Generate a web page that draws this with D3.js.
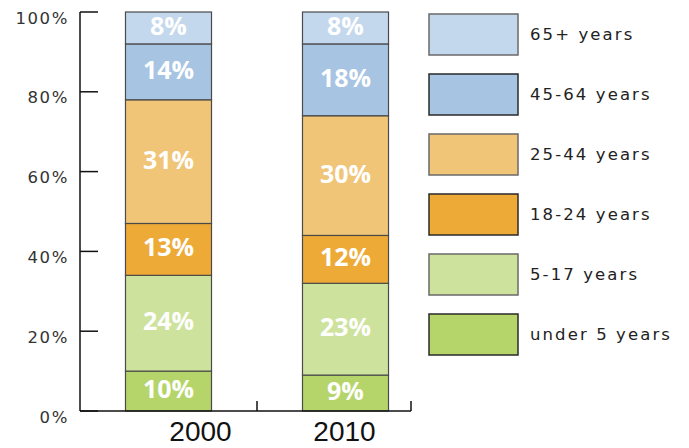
<!DOCTYPE html>
<html>
<head>
<meta charset="utf-8">
<script src="https://cdn.jsdelivr.net/npm/d3@7"></script>
<style>
  body { margin: 0; background: #fff; }
  svg { display: block; }
</style>
</head>
<body>
<svg width="689" height="448"></svg>
<script>
// data
const years = ["2000", "2010"];
const groups = ["under 5 years", "5-17 years", "18-24 years", "25-44 years", "45-64 years", "65+ years"];
const pct2000 = [10, 24, 13, 31, 14, 8];
const pct2010 = [9, 23, 12, 30, 18, 8];
const yTicks = [0, 20, 40, 60, 80, 100];

const fills = ["#b5d56b", "#cde39d", "#eeaa37", "#f0c578", "#a7c4e2", "#c4d8ed"];
const legendStroke = ["#2a2a2a", "#6a6a6a", "#2a2a2a", "#6a6a6a", "#2a2a2a", "#6a6a6a"];

const rows = years.map((yr, i) => {
  const vals = i === 0 ? pct2000 : pct2010;
  const r = { year: yr };
  groups.forEach((g, j) => r[g] = vals[j]);
  return r;
});

const svg = d3.select("svg");
const color = d3.scaleOrdinal().domain(groups).range(fills);

const axisLeft = 80, axisRight = 411;
const y = d3.scaleLinear().domain([0, 100]).range([411, 12]);
const x = d3.scaleBand().domain(years).range([axisLeft, 434]).paddingInner(0.514).paddingOuter(0.257);

const series = d3.stack().keys(groups)(rows);

// bars
const layer = svg.append("g").selectAll("g")
  .data(series).enter().append("g")
  .attr("fill", d => color(d.key));

layer.selectAll("rect")
  .data(d => d)
  .enter().append("rect")
  .attr("x", d => x(d.data.year))
  .attr("y", d => y(d[1]))
  .attr("width", x.bandwidth())
  .attr("height", d => y(d[0]) - y(d[1]))
  .attr("stroke", "#4a4a4a")
  .attr("stroke-width", 1.2);

// value labels
layer.selectAll("text")
  .data(d => d)
  .enter().append("text")
  .attr("x", d => x(d.data.year) + x.bandwidth() / 2)
  .attr("y", d => (y(d[0]) + y(d[1])) / 2 - 3)
  .attr("text-anchor", "middle")
  .attr("dominant-baseline", "central")
  .attr("fill", "#fff")
  .attr("font-family", "'Open Sans', sans-serif")
  .attr("font-weight", "bold")
  .attr("font-size", 25)
  .text(d => (d[1] - d[0]) + "%");

// y axis
const yAxis = svg.append("g");
yAxis.append("line")
  .attr("x1", axisLeft).attr("x2", axisLeft)
  .attr("y1", y(100)).attr("y2", y(0))
  .attr("stroke", "#111").attr("stroke-width", 1.5);
yAxis.selectAll(".tick")
  .data(yTicks).enter().append("line")
  .attr("x1", axisLeft).attr("x2", axisLeft + 18)
  .attr("y1", d => y(d)).attr("y2", d => y(d))
  .attr("stroke", "#111").attr("stroke-width", 1.5);
yAxis.selectAll("text")
  .data(yTicks).enter().append("text")
  .attr("x", 69)
  .attr("y", d => y(d) + 6)
  .attr("text-anchor", "end")
  .attr("dominant-baseline", "central")
  .attr("fill", "#333")
  .attr("font-family", "'DejaVu Sans', sans-serif")
  .attr("font-size", 16.5)
  .attr("letter-spacing", 1.6)
  .text(d => d + "%");

// x axis
const xAxis = svg.append("g");
xAxis.append("line")
  .attr("x1", axisLeft).attr("x2", axisRight)
  .attr("y1", y(0)).attr("y2", y(0))
  .attr("stroke", "#111").attr("stroke-width", 1.5);
const bounds = years.map((d, i) => Math.min(axisLeft + i * x.step(), axisRight)).concat([axisRight]);
xAxis.selectAll(".tick")
  .data(bounds.slice(1)).enter().append("line")
  .attr("x1", d => d).attr("x2", d => d)
  .attr("y1", y(0)).attr("y2", y(0) - 10)
  .attr("stroke", "#111").attr("stroke-width", 1.5);
xAxis.selectAll("text")
  .data(years).enter().append("text")
  .attr("x", (d, i) => x(d) + x.bandwidth() / 2 + (i === 0 ? 32 : -1))
  .attr("y", 441)
  .attr("text-anchor", "middle")
  .attr("fill", "#111")
  .attr("font-family", "'Liberation Sans', sans-serif")
  .attr("font-size", 28)
  .text(d => d);

// legend, top entry is the oldest group
const legendItems = groups.slice().reverse();
const lg = svg.append("g").selectAll("g")
  .data(legendItems).enter().append("g")
  .attr("transform", (d, i) => `translate(429, ${14 + i * 60})`);
lg.append("rect")
  .attr("width", 89).attr("height", 41)
  .attr("fill", d => color(d))
  .attr("stroke", d => legendStroke[groups.indexOf(d)])
  .attr("stroke-width", 1.5);
lg.append("text")
  .attr("x", 101)
  .attr("y", 20)
  .attr("dominant-baseline", "central")
  .attr("fill", "#222")
  .attr("font-family", "'DejaVu Sans', sans-serif")
  .attr("font-size", 16.5)
  .attr("letter-spacing", 2.1)
  .text(d => d);
</script>
</body>
</html>
